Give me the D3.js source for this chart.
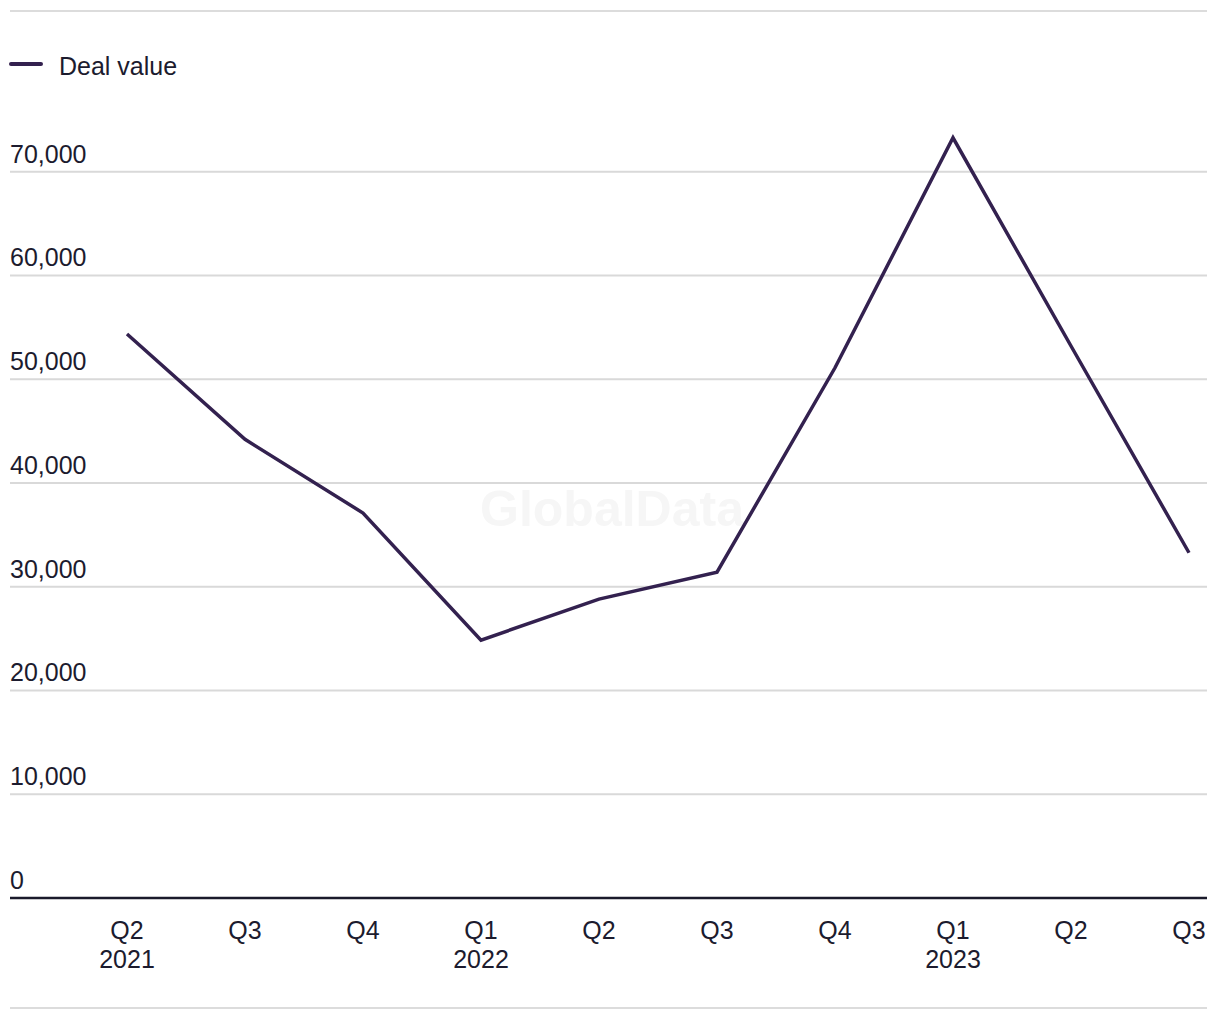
<!DOCTYPE html>
<html>
<head>
<meta charset="utf-8">
<script src="https://cdn.jsdelivr.net/npm/d3@7"></script>
<style>
  html, body { margin: 0; padding: 0; background: #fff; }
  svg { display: block; font-family: "Liberation Sans", Arial, sans-serif; }
</style>
</head>
<body>
<svg id="chart" width="1220" height="1020"></svg>
<script>
const quarters = ["Q2", "Q3", "Q4", "Q1", "Q2", "Q3", "Q4", "Q1", "Q2", "Q3"];
const years = ["2021", "", "", "2022", "", "", "", "2023", "", ""];
const dealValue = [54350, 44200, 37100, 24850, 28800, 31400, 51100, 73270, 53200, 33270];
const yTicks = [0, 10000, 20000, 30000, 40000, 50000, 60000, 70000];
const seriesName = "Deal value";

const svg = d3.select("#chart");
const left = 10, right = 1207;
const idx = d3.range(quarters.length);

const x = d3.scalePoint().domain(idx).range([127, 1189]);
const y = d3.scaleLinear().domain([0, 70000]).range([897.9, 171.7]);

// top & bottom rules
svg.append("line").attr("x1", left).attr("x2", right).attr("y1", 11).attr("y2", 11)
  .attr("stroke", "#dcdcdc").attr("stroke-width", 2);
svg.append("line").attr("x1", left).attr("x2", right).attr("y1", 1008).attr("y2", 1008)
  .attr("stroke", "#dcdcdc").attr("stroke-width", 2);

// watermark
svg.append("text").attr("x", 612).attr("y", 526).attr("text-anchor", "middle")
  .attr("font-size", 50).attr("font-weight", "bold").attr("fill", "#f6f6f6")
  .text("GlobalData");

// gridlines
svg.append("g").selectAll("line").data(yTicks.filter(d => d > 0)).join("line")
  .attr("x1", left).attr("x2", right)
  .attr("y1", d => y(d)).attr("y2", d => y(d))
  .attr("stroke", "#d9d9d9").attr("stroke-width", 2);

// y labels
svg.append("g").selectAll("text").data(yTicks).join("text")
  .attr("x", left).attr("y", d => y(d) - 9)
  .attr("font-size", 25).attr("fill", "#1c1b2e")
  .text(d => d3.format(",")(d));

// x axis line
svg.append("line").attr("x1", left).attr("x2", right)
  .attr("y1", y(0)).attr("y2", y(0))
  .attr("stroke", "#1a1a2b").attr("stroke-width", 2.5);

// x labels
const xl = svg.append("g");
xl.selectAll("text.q").data(idx).join("text").attr("class", "q")
  .attr("x", d => x(d)).attr("y", 939).attr("text-anchor", "middle")
  .attr("font-size", 25).attr("fill", "#1c1b2e")
  .text(d => quarters[d]);
xl.selectAll("text.yr").data(idx.filter(d => years[d])).join("text").attr("class", "yr")
  .attr("x", d => x(d)).attr("y", 968).attr("text-anchor", "middle")
  .attr("font-size", 25).attr("fill", "#1c1b2e")
  .text(d => years[d]);

// line
const line = d3.line().x(d => x(d)).y(d => y(dealValue[d]));
svg.append("path").datum(idx).attr("d", line)
  .attr("fill", "none").attr("stroke", "#33214f").attr("stroke-width", 3.5)
  .attr("stroke-linejoin", "miter");

// legend
svg.append("line").attr("x1", 11).attr("x2", 41).attr("y1", 64).attr("y2", 64)
  .attr("stroke", "#33214f").attr("stroke-width", 4).attr("stroke-linecap", "round");
svg.append("text").attr("x", 59).attr("y", 75).attr("font-size", 25)
  .attr("fill", "#1c1b2e").text(seriesName);
</script>
</body>
</html>
